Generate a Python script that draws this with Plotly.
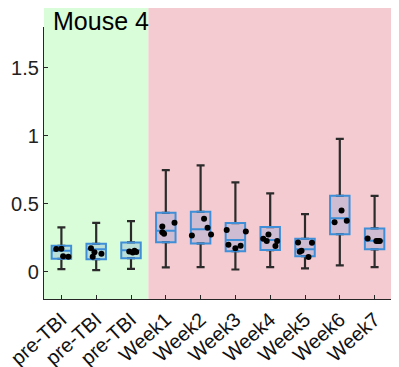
import plotly.graph_objects as go

categories = ["pre-TBI", "pre-TBI", "pre-TBI", "Week1", "Week2", "Week3",
              "Week4", "Week5", "Week6", "Week7"]
positions = [1, 2, 3, 4, 5, 6, 7, 8, 9, 10]

lower = [0.020, 0.013, 0.022, 0.032, 0.035, 0.017, 0.035, 0.025, 0.047, 0.035]
q1 = [0.096, 0.093, 0.100, 0.218, 0.209, 0.152, 0.160, 0.115, 0.277, 0.165]
median = [0.155, 0.165, 0.158, 0.302, 0.312, 0.233, 0.233, 0.165, 0.393, 0.228]
q3 = [0.191, 0.206, 0.216, 0.434, 0.441, 0.358, 0.329, 0.243, 0.559, 0.319]
upper = [0.326, 0.360, 0.373, 0.748, 0.782, 0.657, 0.576, 0.424, 0.978, 0.559]

# individual points per group (values) and their horizontal jitter
points = [
    [0.167, 0.169, 0.115, 0.110],
    [0.174, 0.143, 0.132, 0.110],
    [0.150, 0.145, 0.155, 0.142],
    [0.360, 0.334, 0.290, 0.280],
    [0.390, 0.324, 0.267, 0.275],
    [0.307, 0.297, 0.199, 0.174, 0.191],
    [0.275, 0.243, 0.226, 0.226, 0.189],
    [0.216, 0.214, 0.154, 0.147, 0.108],
    [0.451, 0.365, 0.375],
    [0.245, 0.226, 0.226, 0.226],
]
jitter = [
    [-0.15, 0.0, 0.05, 0.2],
    [-0.15, -0.05, 0.15, -0.1],
    [-0.05, 0.15, 0.1, 0.05],
    [0.25, -0.1, -0.1, -0.05],
    [0.1, 0.2, -0.25, 0.3],
    [-0.25, 0.3, -0.2, 0.0, 0.15],
    [-0.05, -0.2, -0.1, 0.2, 0.15],
    [-0.2, 0.2, -0.1, -0.15, 0.1],
    [0.05, -0.15, 0.2],
    [-0.2, 0.05, 0.15, 0.1],
]

font_family = "Liberation Sans, Arial, sans-serif"
axis_color = "#262626"
whisker_color = "#2b2b2b"
box_line = "#3f8fd8"
box_fill = "rgba(115,155,215,0.30)"

fig = go.Figure()

# upper whiskers (transparent bars carrying error bars)
fig.add_trace(go.Bar(
    x=positions, y=q3,
    marker=dict(color="rgba(0,0,0,0)", line=dict(width=0)),
    error_y=dict(type="data", symmetric=False,
                 array=[u - h for u, h in zip(upper, q3)],
                 arrayminus=[0] * len(q3),
                 color=whisker_color, thickness=2.2, width=4),
    hoverinfo="skip", showlegend=False))
# lower whiskers
fig.add_trace(go.Bar(
    x=positions, y=q1,
    marker=dict(color="rgba(0,0,0,0)", line=dict(width=0)),
    error_y=dict(type="data", symmetric=False,
                 array=[0] * len(q1),
                 arrayminus=[l1 - lo for l1, lo in zip(q1, lower)],
                 color=whisker_color, thickness=2.2, width=4),
    hoverinfo="skip", showlegend=False))

# boxes
fig.add_trace(go.Box(
    x=positions, q1=q1, median=median, q3=q3,
    lowerfence=q1, upperfence=q3,
    width=0.56,
    line=dict(color=box_line, width=2),
    fillcolor=box_fill,
    boxpoints=False, showlegend=False, hoverinfo="skip"))

# data points
px, py = [], []
for pos, vals, jit in zip(positions, points, jitter):
    for v, j in zip(vals, jit):
        px.append(pos + j)
        py.append(v)
fig.add_trace(go.Scatter(
    x=px, y=py, mode="markers",
    marker=dict(color="black", size=6),
    showlegend=False, hoverinfo="skip"))

x_range = [0.5, 10.5]
split = 3.5
split_paper = (split - x_range[0]) / (x_range[1] - x_range[0])

# the page body adds an 8px offset, so the figure is sized to the remaining window
fig.update_layout(
    width=391, height=359,
    margin=dict(l=36, r=7, t=19, b=68),
    paper_bgcolor="white", plot_bgcolor="rgba(0,0,0,0)",
    barmode="overlay",
    font=dict(family=font_family, size=20, color="#111"),
    shapes=[
        dict(type="rect", xref="paper", yref="paper",
             x0=0, x1=split_paper, y0=0, y1=1.072,
             fillcolor="#d9fcd9", line=dict(width=0), layer="below"),
        dict(type="rect", xref="paper", yref="paper",
             x0=split_paper, x1=1.05, y0=0, y1=1.072,
             fillcolor="#f4cbd0", line=dict(width=0), layer="below"),
    ],
    annotations=[
        dict(text="Mouse 4", xref="paper", yref="paper", x=0.02, y=1.08,
             xanchor="left", yanchor="top", showarrow=False,
             font=dict(family=font_family, size=25, color="black")),
    ],
    xaxis=dict(
        range=x_range, tickmode="array", tickvals=positions, ticktext=categories,
        tickangle=-42, ticks="inside", ticklen=4, tickwidth=1,
        tickcolor=axis_color, showline=True, linecolor=axis_color, linewidth=1.2,
        showgrid=False, zeroline=False, automargin=False,
        ticklabeloverflow="allow",
        tickfont=dict(family=font_family, size=20, color="#111"),
    ),
    yaxis=dict(
        range=[-0.2, 1.8], tickvals=[0, 0.5, 1, 1.5],
        ticktext=["0", "0.5", "1", "1.5"],
        ticks="inside", ticklen=4, tickwidth=1, tickcolor=axis_color,
        showline=True, linecolor=axis_color, linewidth=1.2,
        showgrid=False, zeroline=False, automargin=False,
        tickfont=dict(family=font_family, size=20, color="#222"),
    ),
)

fig.write_html("out.html")
